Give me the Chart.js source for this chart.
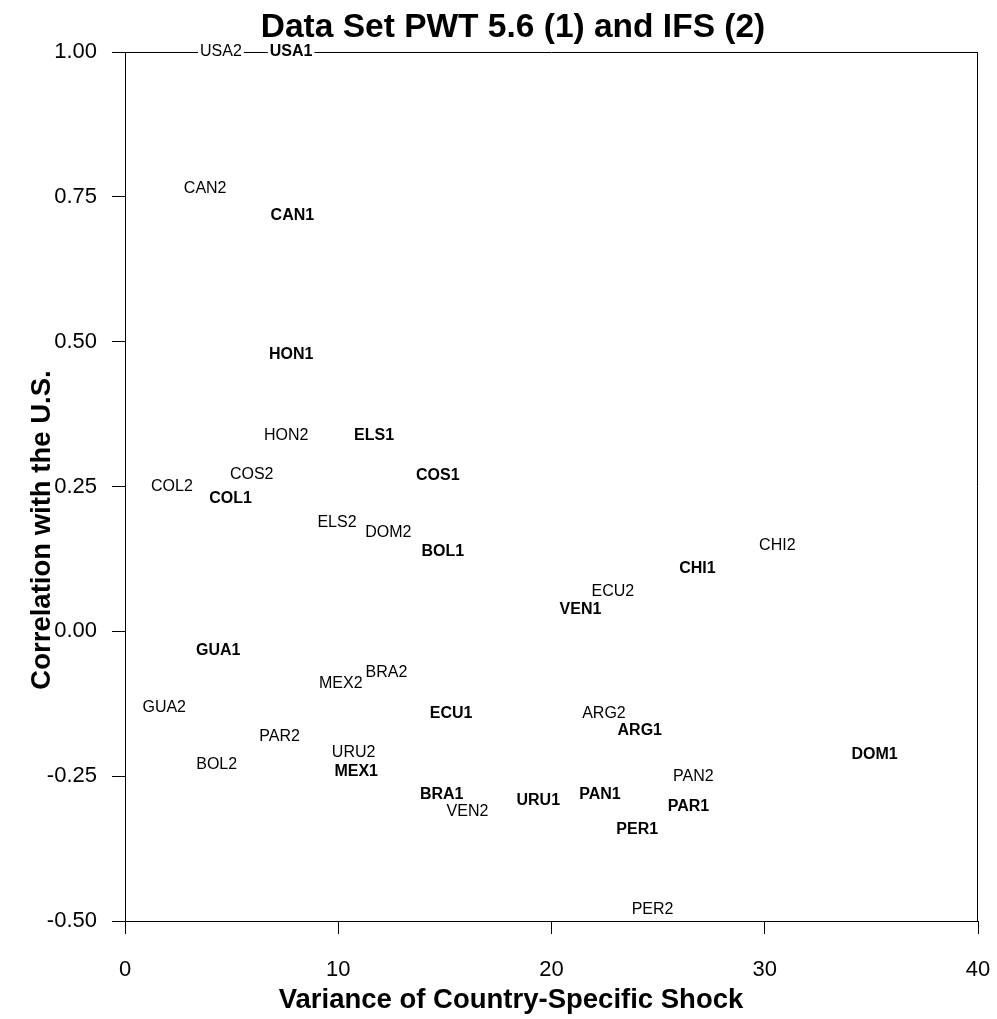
<!DOCTYPE html>
<html><head><meta charset="utf-8">
<script src="https://cdn.jsdelivr.net/npm/chart.js@4.4.0/dist/chart.umd.min.js"></script>
<style>html,body{margin:0;padding:0;background:#fff}#wrap{width:997px;height:1019px}</style>
</head><body><div id="wrap"><canvas id="c" width="997" height="1019"></canvas></div>
<script>
// Series 1: PWT 5.6 (bold labels)
const names1 = ["USA1","CAN1","HON1","ELS1","COS1","COL1","BOL1","CHI1","VEN1","GUA1","ECU1","ARG1","DOM1","MEX1","BRA1","PAN1","URU1","PAR1","PER1"];
const var1   = [7.79, 7.85, 7.79, 11.68, 14.67, 4.95, 14.90, 26.84, 21.36, 4.37, 15.29, 24.14, 35.15, 10.84, 14.85, 22.27, 19.38, 26.42, 24.02];
const corr1  = [1.00, 0.718, 0.478, 0.338, 0.268, 0.229, 0.138, 0.108, 0.037, -0.033, -0.142, -0.171, -0.213, -0.242, -0.282, -0.282, -0.292, -0.302, -0.342];
// Series 2: IFS (regular labels)
const names2 = ["USA2","CAN2","HON2","COS2","COL2","ELS2","DOM2","CHI2","ECU2","BRA2","MEX2","GUA2","ARG2","PAR2","URU2","BOL2","PAN2","VEN2","PER2"];
const var2   = [4.50, 3.76, 7.56, 5.94, 2.20, 9.94, 12.35, 30.59, 22.88, 12.26, 10.12, 1.84, 22.46, 7.25, 10.72, 4.30, 26.65, 16.06, 24.74];
const corr2  = [1.00, 0.765, 0.338, 0.270, 0.250, 0.188, 0.170, 0.148, 0.069, -0.071, -0.091, -0.132, -0.142, -0.181, -0.210, -0.230, -0.251, -0.312, -0.481];
// Axes
const xTicks = [0, 10, 20, 30, 40];
const yTicks = [-0.50, -0.25, 0.00, 0.25, 0.50, 0.75, 1.00];
// Texts
const chartTitle = 'Data Set PWT 5.6 (1) and IFS (2)';
const xTitle = 'Variance of Country-Specific Shock';
const yTitle = 'Correlation with the U.S.';

const FONT = "'Liberation Sans', Arial, Helvetica, sans-serif";
const pts = (xs, ys) => xs.map((x, i) => ({x: x, y: ys[i]}));

const frameLabels = {
  id: 'frameLabels',
  beforeDatasetsDraw(chart) {
    const {ctx, chartArea: a} = chart;
    ctx.save();
    ctx.strokeStyle = '#000';
    ctx.lineWidth = 1;
    ctx.beginPath();
    const t = Math.round(a.top) + 0.5, r = Math.round(a.right) - 0.5;
    ctx.moveTo(a.left, t); ctx.lineTo(a.right, t);
    ctx.moveTo(r, a.top); ctx.lineTo(r, a.bottom);
    ctx.stroke();
    ctx.restore();
  },
  afterDatasetsDraw(chart) {
    const ctx = chart.ctx;
    ctx.save();
    ctx.textAlign = 'center';
    ctx.textBaseline = 'middle';
    chart.data.datasets.forEach((ds, di) => {
      const meta = chart.getDatasetMeta(di);
      ctx.font = (ds.bold ? 'bold ' : '') + '16px ' + FONT;
      meta.data.forEach((el, i) => {
        const txt = ds.names[i];
        const w = ctx.measureText(txt).width;
        ctx.fillStyle = '#fff';
        ctx.fillRect(el.x - w / 2 - 2, el.y - 8, w + 4, 16);
        ctx.fillStyle = '#000';
        ctx.fillText(txt, el.x, el.y);
      });
    });
    ctx.restore();
  },
  afterDraw(chart) {
    const ctx = chart.ctx;
    ctx.save();
    ctx.fillStyle = '#000';
    ctx.textAlign = 'center';
    ctx.textBaseline = 'alphabetic';
    ctx.font = 'bold 33.5px ' + FONT;
    ctx.fillText(chartTitle, 513, 37);
    ctx.font = 'bold 27.5px ' + FONT;
    ctx.fillText(xTitle, 511, 1008);
    ctx.translate(50, 530);
    ctx.rotate(-Math.PI / 2);
    ctx.fillText(yTitle, 0, 0);
    ctx.restore();
  }
};

new Chart(document.getElementById('c'), {
  type: 'scatter',
  data: {
    datasets: [
      {label: 'PWT 5.6 (1)', names: names1, bold: true, data: pts(var1, corr1), pointRadius: 0, pointHoverRadius: 0, clip: false},
      {label: 'IFS (2)', names: names2, bold: false, data: pts(var2, corr2), pointRadius: 0, pointHoverRadius: 0, clip: false}
    ]
  },
  options: {
    responsive: false,
    animation: false,
    events: [],
    layout: {padding: {left: 0, right: 19, top: 52, bottom: 0}},
    plugins: {
      legend: {display: false},
      tooltip: {enabled: false},
      title: {display: false}
    },
    scales: {
      x: {
        type: 'linear',
        min: xTicks[0], max: xTicks[xTicks.length - 1],
        afterFit(s) { s.height = 98; s.paddingLeft = 0; s.paddingRight = 0; },
        afterBuildTicks(s) { s.ticks = xTicks.map(v => ({value: v})); },
        ticks: {color: '#000', font: {family: FONT, size: 22}, padding: 23, maxRotation: 0},
        grid: {display: true, drawOnChartArea: false, drawTicks: true, tickLength: 13, color: '#000'},
        border: {display: true, color: '#000', width: 1},
        title: {display: false}
      },
      y: {
        type: 'linear',
        min: yTicks[0], max: yTicks[yTicks.length - 1],
        afterFit(s) { s.width = 125; s.paddingTop = 0; s.paddingBottom = 0; },
        afterBuildTicks(s) { s.ticks = yTicks.map(v => ({value: v})); },
        ticks: {color: '#000', font: {family: FONT, size: 22}, padding: 15,
                callback: v => Number(v).toFixed(2)},
        grid: {display: true, drawOnChartArea: false, drawTicks: true, tickLength: 13, color: '#000'},
        border: {display: true, color: '#000', width: 1},
        title: {display: false}
      }
    }
  },
  plugins: [frameLabels]
});
</script>
</body></html>
